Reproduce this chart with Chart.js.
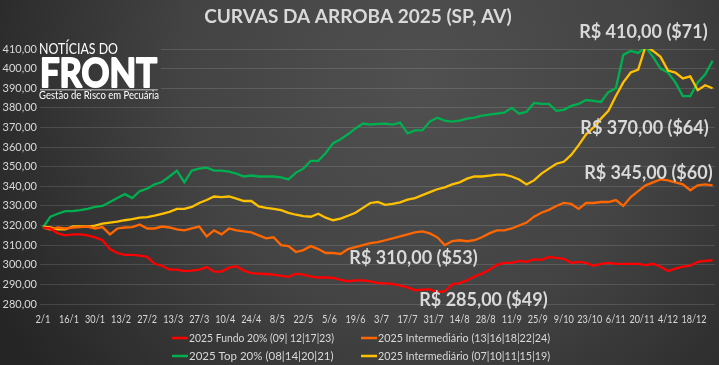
<!DOCTYPE html>
<html>
<head>
<meta charset="utf-8">
<script src="https://cdn.jsdelivr.net/npm/chart.js@4.4.1/dist/chart.umd.min.js"></script>
<style>
html, body { margin: 0; padding: 0; background: #333; }
#wrap { width: 719px; height: 365px; }
</style>
</head>
<body>
<div id="wrap"><canvas id="myChart" width="719" height="365"></canvas></div>
<script>
// days counted from 2/1/2025, one sample every 4 days
const days = [0, 4, 8, 12, 16, 20, 24, 28, 32, 36, 40, 44, 48, 52, 56, 60, 64, 68, 72, 76,
    80, 84, 88, 92, 96, 100, 104, 108, 112, 116, 120, 124, 128, 132, 136, 140, 144, 148, 152, 156,
    160, 164, 168, 172, 176, 180, 184, 188, 192, 196, 200, 204, 208, 212, 216, 220, 224, 228, 232, 236,
    240, 244, 248, 252, 256, 260, 264, 268, 272, 276, 280, 284, 288, 292, 296, 300, 304, 308, 312, 316,
    320, 324, 328, 332, 336, 340, 344, 348, 352, 356, 360];

const tickLabels = ['2/1', '16/1', '30/1', '13/2', '27/2', '13/3', '27/3', '10/4', '24/4', '8/5', '22/5', '5/6', '19/6',
    '3/7', '17/7', '31/7', '14/8', '28/8', '11/9', '25/9', '9/10', '23/10', '6/11', '20/11', '4/12', '18/12'];

const fundo = [318.9, 318.5, 316, 315, 315.5, 315.5, 315, 314, 312.5, 308, 306, 305, 305, 304.7, 304, 300.5, 299.5, 297.5, 297.5, 296.8,
    297, 297.5, 298.8, 296.5, 296.5, 298.5, 299.3, 297, 295.7, 295.5, 295.3, 295, 294.3, 293.8, 295.5, 295, 294, 293.5, 293.5, 293.3,
    292.3, 291.6, 292, 292, 291.5, 290.7, 290.5, 290.2, 289.4, 288.5, 287, 287.3, 287.5, 286, 286.5, 290, 290.7, 292, 294, 295.5,
    297.5, 300, 301, 301, 302, 301.5, 302.7, 302.5, 304, 303.5, 303, 301, 301.5, 301, 299.5, 300.5, 301, 300.5, 300.5, 300.5,
    300.5, 299.8, 300.5, 299, 296.8, 298, 299, 299.5, 301.5, 302, 302.3];

const interm1 = [318.9, 318, 319, 318.5, 319, 319.2, 319.5, 318.5, 319.2, 315.5, 318.5, 319, 319.2, 320.5, 318.5, 318.5, 319.5, 319, 318, 317.5,
    318.5, 319.5, 314.5, 317.5, 315.5, 318.5, 317.5, 317, 316.5, 315, 313.5, 314, 310, 309.5, 306.5, 307.5, 309.5, 308, 306, 306,
    305.5, 308, 309, 310, 311, 311.5, 312.5, 313.5, 314.5, 315.5, 316.5, 317, 316, 314, 310, 312, 312.5, 312, 312.5, 314,
    316, 317.5, 317.5, 318.5, 320, 321.5, 324.5, 326.5, 328, 330, 331.5, 331, 328.5, 331.5, 331.5, 332, 332, 333, 330, 334.5,
    337.5, 340.5, 342, 343.5, 343, 342, 341, 338, 340.5, 341, 340.5];

const top20 = [319, 324.5, 326, 327.3, 327.3, 327.8, 328.5, 329.5, 330, 332, 334, 336, 334, 337.5, 338.8, 341, 342.2, 345, 348, 342,
    348, 349, 349.5, 348, 348, 347.5, 346.5, 345, 345.5, 345, 345, 345, 344.5, 343.5, 347, 349, 353, 353, 357, 362,
    364, 366.5, 369.5, 372, 371.5, 371.8, 372, 371.5, 372.5, 367, 368.5, 368.6, 373, 375, 373.5, 373, 373.5, 374.5, 375, 376,
    376.5, 377, 377.5, 380, 377, 378, 382.5, 382, 382, 378.5, 379, 381, 382, 384, 383.5, 383, 388, 390, 407, 409,
    408, 411, 406, 400, 398, 393, 386, 386, 393, 397, 404];

const interm2 = [319.5, 319, 318, 318, 319.5, 319.5, 319.5, 320, 321, 321.5, 322, 322.7, 323.3, 324, 324.3, 325, 326, 327, 328.5, 328.5,
    329.5, 331.5, 333, 334.8, 334.5, 334.8, 333.7, 332.5, 332.5, 329.8, 329, 328.5, 327.8, 326.5, 325.5, 324.8, 324.5, 326, 324, 322.7,
    323.5, 325, 326.5, 329, 331.5, 332, 330.5, 331, 331.8, 333.2, 334, 335.5, 337, 338.5, 339.5, 341, 342, 343.9, 345, 345,
    345.5, 346, 346, 345, 343.5, 341, 343, 346.5, 349, 351.5, 352.5, 356, 361, 366.5, 370, 374.5, 378.5, 386, 393, 398,
    399.5, 411.5, 409, 406, 399, 398, 395, 396, 389, 391.5, 390];

const seriesNames = ['2025 Fundo 20% (09| 12|17|23)', '2025 Intermediário (13|16|18|22|24)',
    '2025 Top 20% (08|14|20|21)', '2025 Intermediário (07|10|11|15|19)'];
const seriesColors = ['#ff0000', '#ff6600', '#00b050', '#ffc000'];

// callouts: text with the (day, value) point they are centred on
const calloutTexts = ['R$ 410,00 ($71)', 'R$ 370,00 ($64)', 'R$ 345,00 ($60)', 'R$ 310,00 ($53)', 'R$ 285,00 ($49)'];
const calloutDays = [322.8, 323.4, 325.5, 199.2, 236.8];
const calloutValues = [418.8, 369.6, 346.7, 303.3, 281.9];

const textColor = '#d9d9d9';
const fontName = 'Lato, "Open Sans", sans-serif';

const toPoints = (vals) => vals.map((v, i) => ({ x: days[i], y: v }));
const tickDays = tickLabels.map((l, i) => i * 14);

const bgFill = (c) => {
    const g = c.createRadialGradient(420, 80, 0, 420, 80, 480);
    g.addColorStop(0, '#505050');
    g.addColorStop(0.5, '#434343');
    g.addColorStop(1, '#252525');
    return g;
};

const decor = {
    id: 'decor',
    beforeDraw(chart) {
        const c = chart.ctx;
        c.save();
        c.fillStyle = bgFill(c);
        c.fillRect(0, 0, chart.width, chart.height);
        c.restore();
    },
    afterDraw(chart) {
        const c = chart.ctx;
        const xs = chart.scales.x;
        const ys = chart.scales.y;
        c.save();

        //title
        c.fillStyle = textColor;
        c.font = 'bold 19px ' + fontName;
        c.textAlign = 'center';
        c.textBaseline = 'middle';
        c.fillText('CURVAS DA ARROBA 2025 (SP, AV)', 358, 17);

        //date labels under the x axis, squeezed like the original
        c.font = '11px ' + fontName;
        xs.ticks.forEach((t, i) => {
            const lbl = tickLabels[i];
            c.fillText(lbl, xs.getPixelForValue(t.value), xs.top + 15, lbl.length * 5);
        });

        //logo block
        c.fillStyle = bgFill(c);
        c.fillRect(38, 40, 123, 62);
        c.fillStyle = '#ffffff';
        c.textAlign = 'left';
        c.font = '15px ' + fontName;
        c.fillText('NOTÍCIAS DO', 39, 49, 79);
        c.font = 'bold 40px ' + fontName;
        c.textBaseline = 'alphabetic';
        c.strokeStyle = '#ffffff';
        c.lineWidth = 2;
        c.lineJoin = 'round';
        c.fillText('FRONT', 40, 86.5, 117);
        c.strokeText('FRONT', 40, 86.5, 117);
        c.fillStyle = '#9a9a9a';
        c.fillRect(40, 89, 118, 1.5);
        c.fillStyle = '#ffffff';
        c.textBaseline = 'middle';
        c.font = '10.5px ' + fontName;
        c.fillText('Gestão de Risco em Pecuária', 39, 96, 120);

        //callouts
        c.fillStyle = textColor;
        c.font = 'bold 18px ' + fontName;
        c.textAlign = 'center';
        calloutTexts.forEach((t, i) => {
            c.fillText(t, xs.getPixelForValue(calloutDays[i]), ys.getPixelForValue(calloutValues[i]));
        });

        //legend, two columns
        c.font = '11.5px ' + fontName;
        c.textAlign = 'left';
        chart.data.datasets.forEach((ds, i) => {
            const lx = i % 2 === 0 ? 172 : 361;
            const ly = i < 2 ? 338 : 356;
            c.strokeStyle = ds.borderColor;
            c.lineWidth = 2.5;
            c.beginPath();
            c.moveTo(lx, ly);
            c.lineTo(lx + 16, ly);
            c.stroke();
            c.fillStyle = textColor;
            c.fillText(ds.label, lx + 17, ly, i % 2 === 0 ? 145 : 172);
        });
        c.restore();
    }
};

const ctx = document.getElementById('myChart').getContext('2d');
const myChart = new Chart(ctx, {
    type: 'line',
    data: {
        datasets: [fundo, interm1, top20, interm2].map((vals, i) => ({
            label: seriesNames[i],
            data: toPoints(vals),
            borderColor: seriesColors[i],
            backgroundColor: seriesColors[i],
            borderWidth: 2.3,
            pointRadius: 0,
            tension: 0,
            fill: false,
            order: [1, 2, 4, 3][i]
        }))
    },
    options: {
        responsive: false,
        animation: false,
        layout: { padding: { top: 49, right: 4, left: 0, bottom: 0 } },
        plugins: {
            legend: { display: false },
            title: { display: false },
            tooltip: { enabled: false }
        },
        scales: {
            x: {
                type: 'linear',
                min: -1.6,
                max: 361.3,
                afterBuildTicks: (scale) => {
                    scale.ticks = tickDays.map(v => ({ value: v }));
                },
                afterFit: (scale) => { scale.height = 61; },
                grid: { display: false, drawTicks: false },
                border: { display: false },
                ticks: { display: false }
            },
            y: {
                min: 280,
                max: 410,
                afterFit: (scale) => { scale.width = 40; },
                grid: { color: 'rgba(255,255,255,0.13)', lineWidth: 1, drawTicks: false },
                border: { display: false },
                ticks: {
                    stepSize: 10,
                    padding: 3,
                    color: textColor,
                    font: { family: fontName, size: 11 },
                    callback: (value) => value.toFixed(2).replace('.', ',')
                }
            }
        }
    },
    plugins: [decor]
});
</script>
</body>
</html>
